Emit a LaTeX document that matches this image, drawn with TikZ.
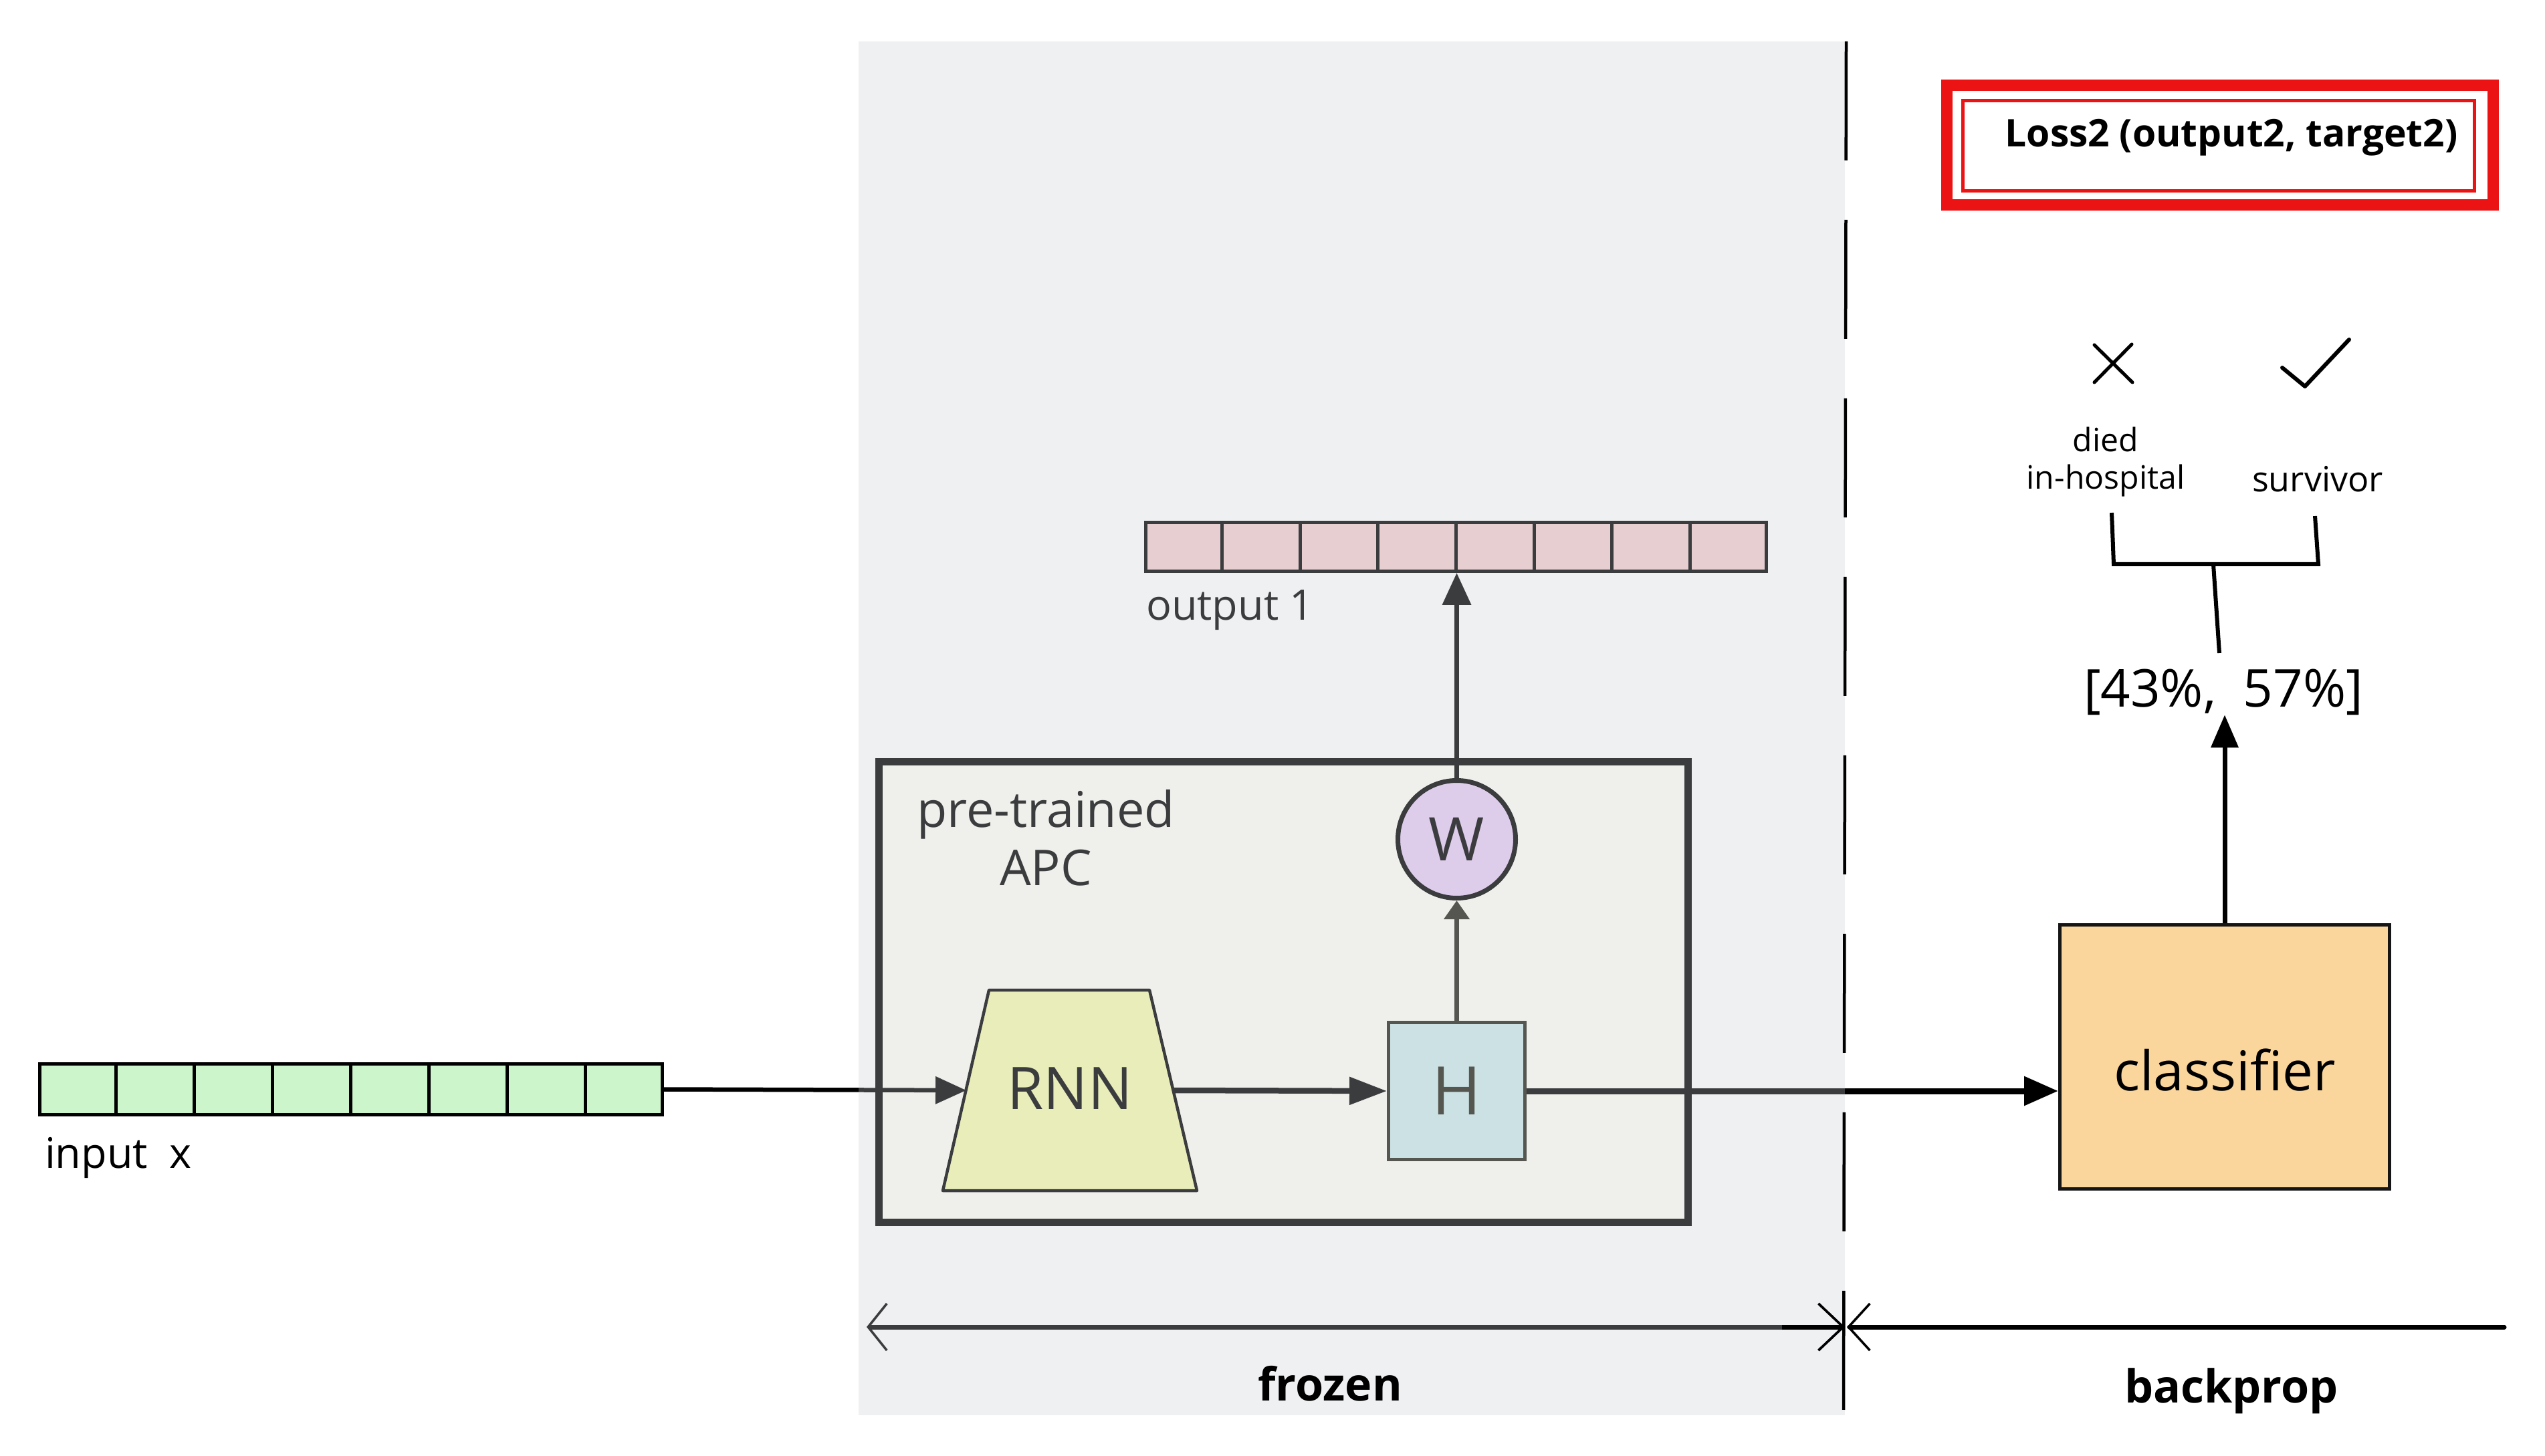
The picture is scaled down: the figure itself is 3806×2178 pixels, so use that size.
\documentclass[tikz,border=0pt]{standalone}
\usepackage{fontspec}
\setmainfont{Open Sans}
\usetikzlibrary{arrows.meta,calc}
\definecolor{boxfill}{HTML}{FFFFF5}
\definecolor{rnnfill}{HTML}{F6FBB0}
\definecolor{hfill}{HTML}{CDEAEB}
\definecolor{wfill}{HTML}{E7CDF6}
\definecolor{outfill}{HTML}{F3D0D1}
\definecolor{infill}{HTML}{CDF5CB}
\definecolor{hbord}{HTML}{25261A}
\definecolor{clsfill}{HTML}{FBD69C}
\definecolor{clsbord}{HTML}{151515}
\definecolor{lossred}{HTML}{EC1314}
\definecolor{ovl}{RGB}{201,204,211}
\begin{document}
\begin{tikzpicture}[x=0.1mm,y=-0.1mm,
  lbl/.style={inner sep=0pt, outer sep=0pt},
  cellrow/.style={draw, line width=0.5mm, rectangle, inner sep=0pt},
  plainbox/.style={draw, rectangle, inner sep=0pt}
]
\useasboundingbox (0,0) rectangle (3806,2178);
\fill[white] (0,0) rectangle (3806,2178);

% ---------- frozen-region contents ----------
\node[plainbox, draw=black, line width=1.1mm, fill=boxfill, minimum width=121mm, minimum height=68.9mm] (apc) at (1919.5,1484) {};
\node[lbl, anchor=base, align=center, font=\fontsize{21}{24.5}\selectfont] (apct) at (1564,1324) {pre-trained\\APC};

% RNN trapezoid (shape drawn directly, node carries text and anchors at mid-height)
\draw[line width=0.45mm, fill=rnnfill, line join=round] (1479,1481) -- (1719,1481) -- (1790,1781) -- (1410,1781) -- cycle;
\node[lbl, minimum width=31mm, minimum height=30mm, text height=5.6mm, text depth=0mm,
  font=\fontsize{25}{30}\selectfont] (rnn) at (1600,1631) {RNN};

\node[plainbox, draw=hbord, line width=0.5mm, fill=hfill, minimum width=20.4mm, minimum height=20.5mm,
  text height=7mm, text depth=0mm, text=hbord, font=\fontsize{28.5}{34}\selectfont] (h) at (2178.5,1632) {H};

\node[circle, draw, line width=0.7mm, fill=wfill, minimum size=17.6mm, inner sep=0pt,
  text height=6.3mm, text depth=0mm, font=\fontsize{25.6}{30}\selectfont] (w) at (2178.5,1255.5) {W};

\node[cellrow, fill=outfill, minimum width=92.8mm, minimum height=7.3mm] (out) at (2177.5,818) {};
\foreach \i in {1,...,7}
  \draw[line width=0.5mm] ($(out.south west)!\i/8!(out.south east)$) -- ($(out.north west)!\i/8!(out.north east)$);
\node[lbl, anchor=base west, font=\fontsize{17.9}{20}\selectfont] (outl) at (1714,928) {output 1};

% input array (outside frozen)
\node[cellrow, fill=infill, minimum width=93.1mm, minimum height=7.6mm] (inp) at (524.5,1629.5) {};
\foreach \i in {1,...,7}
  \draw[line width=0.5mm] ($(inp.south west)!\i/8!(inp.south east)$) -- ($(inp.north west)!\i/8!(inp.north east)$);
\node[lbl, anchor=base west, font=\fontsize{17.9}{20}\selectfont] (inpl) at (67,1747) {input\ \ x};

% classifier
\node[plainbox, draw=clsbord, line width=0.5mm, fill=clsfill, minimum width=49.3mm, minimum height=39.5mm,
  text height=10mm, text depth=0mm, font=\fontsize{23.3}{28}\selectfont] (cls) at (3327,1581) {classifier};

% connectors
\draw[line width=0.65mm, -{Triangle[length=4.6mm,width=4mm]}] (inp.east) -- (rnn.west);
\draw[line width=0.85mm, -{Triangle[length=5.6mm,width=4mm]}] (rnn.east) -- (h.west);
\draw[hbord, line width=0.7mm, -{Triangle[length=2.8mm,width=3.7mm]}] (h.north) -- (w.south);
\draw[line width=0.7mm, -{Triangle[length=4.8mm,width=4.2mm]}] (w.north) -- (w.north |- out.south);
\draw[line width=0.9mm, -{Triangle[length=5.1mm,width=4.2mm]}] (h.east) -- (h.east -| cls.west);

% frozen extent arrow
\coordinate (fzL) at (1296,1985);
\coordinate (fzR) at (2759,1985);
\coordinate (fzK) at (2665,1985);
\draw[line width=0.7mm, {Straight Barb[length=2.8mm,width=7mm,line width=0.35mm]}-{Straight Barb[length=3.7mm,width=7mm,line width=0.35mm]}] (fzL) -- (fzR);

% ---------- frozen overlay ----------
\fill[ovl, fill opacity=0.294] (1284,62) rectangle (2759,2117);

\draw[line width=0.7mm, -{Straight Barb[length=3.7mm,width=7mm,line width=0.35mm]}] (fzK) -- (fzR);

% dashed separator
\coordinate (dashT) at (2761,62);
\coordinate (dashB) at (2757,2111);
\draw[line width=0.45mm, dash pattern=on 17.8mm off 8.9mm] (dashT) -- (dashB);

% backprop arrow
\coordinate (bpL) at (2762,1985);
\coordinate (bpR) at (3745,1985);
\draw[line width=0.7mm, line cap=round, -{Straight Barb[length=3.2mm,width=7mm,line width=0.35mm]}] (bpR) -- (bpL);

\node[lbl, anchor=base, font=\bfseries\fontsize{19.4}{23}\selectfont] (frz) at (1989,2095) {frozen};
\node[lbl, anchor=base, font=\bfseries\fontsize{19.4}{23}\selectfont] (bp) at (3337,2098) {backprop};

% output side
\node[lbl, anchor=base, font=\fontsize{22.2}{26}\selectfont] (pct) at (3325,1057) {[43\%,\ \ 57\%]};
\draw[line width=0.7mm, -{Triangle[length=4.9mm,width=4mm]}] (cls.north) -- (cls.north |- pct.south);

\node[lbl, anchor=base, align=center, font=\fontsize{13.7}{16}\selectfont] (died) at (3149,732) {died\\in-hospital};
\node[lbl, anchor=base, font=\fontsize{14.8}{17}\selectfont] (surv) at (3466,736) {survivor};

\coordinate (legL) at (3158,767);
\coordinate (barL) at (3161,844);
\coordinate (barR) at (3467,844);
\coordinate (legR) at (3462,772);
\coordinate (stemT) at (3310,844);
\coordinate (stemB) at (3319,977);
\draw[line width=0.6mm] (legL) -- (barL) -- (barR) -- (legR);
\draw[line width=0.6mm] (stemT) -- (stemB);

% cross and check
\draw[line width=0.5mm, line cap=round] (3132,516) -- (3189,572) (3132,572) -- (3188,515);
\draw[line width=0.6mm, line cap=round, line join=round] (3413,550) -- (3447,578) -- (3513,508);

% loss box
\node[plainbox, draw=lossred, line width=1.7mm, minimum width=81.7mm, minimum height=17.9mm] (lossO) at (3320,217) {};
\node[plainbox, draw=lossred, line width=0.5mm, minimum width=76.5mm, minimum height=13.5mm] (lossI) at (3318,218) {};
\node[lbl, anchor=base, font=\bfseries\fontsize{16.2}{19}\selectfont] (losst) at (3337,220) {Loss2 (output2, target2)};
\end{tikzpicture}
\end{document}
